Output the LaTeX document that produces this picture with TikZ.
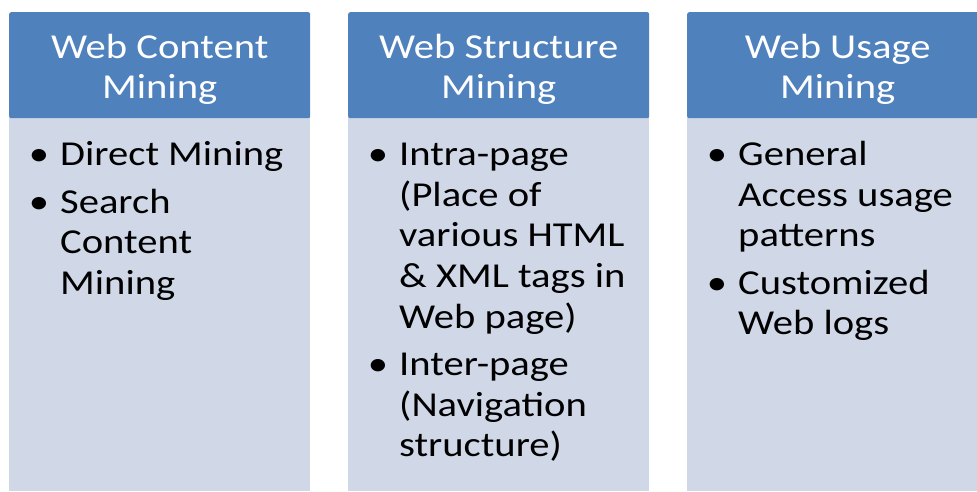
\documentclass[tikz,border=0pt]{standalone}
\usepackage{fontspec}
\setmainfont{Carlito}[FakeStretch=1.16]
\usetikzlibrary{positioning}

\definecolor{headblue}{HTML}{4F81BD}
\definecolor{panelblue}{HTML}{D0D8E8}
\newcommand{\bigtext}{\fontsize{35}{40.6}\selectfont}
\newcommand{\itm}{\strut\llap{\textbullet\hskip 11pt}}

\begin{document}
\begin{tikzpicture}[
                        x=1pt, y=-1pt,
                        node distance=6.4pt,
                        head/.style={fill=headblue, rounded corners=2pt, minimum width=301pt, minimum height=106pt, inner sep=0pt, anchor=north west},
                        panel/.style={fill=panelblue, minimum width=301pt, minimum height=379pt, inner sep=0pt, anchor=north west},
                        title/.style={text=white, font=\bigtext, align=center, inner sep=0pt},
                        entry/.style={font=\bigtext, align=left, inner sep=0pt}
                    ]
                    \useasboundingbox (0,0) rectangle (977,491);

                    % Column bodies
                    \node [panel] (b1) at (9,112) {};
                    \node [panel] (b2) at (348,112) {};
                    \node [panel] (b3) at (687,112) {};

                    % Column heads
                    \node [head] (h1) at (9,12) {};
                    \node [head] (h2) at (348,12) {};
                    \node [head] (h3) at (687,12) {};
                    \node [title, yshift=-4pt] (t1) at (h1) {Web Content\\Mining};
                    \node [title, yshift=-4pt] (t2) at (h2) {Web Structure\\Mining};
                    \node [title, yshift=-4pt] (t3) at (h3) {Web Usage\\Mining};

                    % Bullet entries
                    \node [entry, anchor=north west, below right=18.6pt and 51pt of h1.south west] (e11) {\itm Direct Mining\strut};
                    \node [entry, below=of e11.south west, anchor=north west] (e12) {\itm Search\\Content\\Mining\strut};

                    \node [entry, anchor=north west, below right=18.6pt and 51pt of h2.south west] (e21) {\itm Intra-page\\(Place of\\various HTML\\\& XML tags in\\Web page)\strut};
                    \node [entry, below=of e21.south west, anchor=north west] (e22) {\itm Inter-page\\(Navigation\\structure)\strut};

                    \node [entry, anchor=north west, below right=18.6pt and 51pt of h3.south west] (e31) {\itm General\\Access usage\\patterns\strut};
                    \node [entry, below=of e31.south west, anchor=north west] (e32) {\itm Customized\\Web logs\strut};
                \end{tikzpicture}
\end{document}
